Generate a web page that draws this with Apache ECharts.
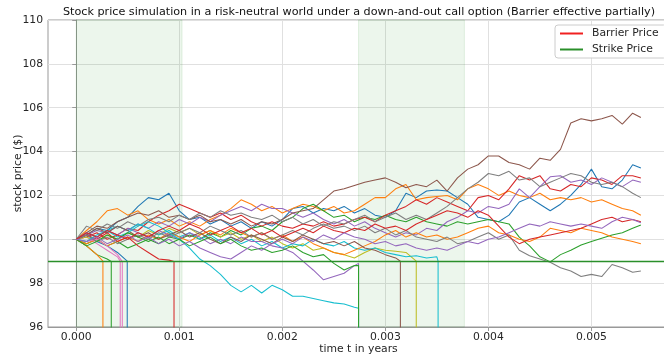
<!DOCTYPE html>
<html>
<head>
<meta charset="utf-8">
<script src="https://cdn.jsdelivr.net/npm/echarts@6/dist/echarts.min.js"></script>
<style>
html,body{margin:0;padding:0;background:#fff;}
#chart{width:664px;height:359px;}
</style>
</head>
<body>
<div id="chart"></div>
<script>
// ---- data ----
const titleText = 'Stock price simulation in a risk-neutral world under a down-and-out call option (Barrier effective partially)';
const xAxisName = 'time t in years';
const yAxisName = 'stock price ($)';
const xTickValues = [0, 0.001, 0.002, 0.003, 0.004, 0.005];
const xMin = -0.000274;
const xMax = 0.005753;
const yMin = 96;
const yMax = 110;
const yStep = 2;
const strikePrice = 99;
const barrierWindows = [[0, 0.001027], [0.00274, 0.003767]];
const knockoutLevel = 0;

const times = [0,0.0001,0.0002,0.0003,0.0004,0.0005,0.0006,0.0007,0.0008,0.0009,
  0.0010,0.0011,0.0012,0.0013,0.0014,0.0015,0.0016,0.0017,0.0018,0.0019,
  0.0020,0.0021,0.0022,0.0023,0.0024,0.0025,0.0026,0.0027,0.0028,0.0029,
  0.0030,0.0031,0.0032,0.0033,0.0034,0.0035,0.0036,0.0037,0.0038,0.0039,
  0.0040,0.0041,0.0042,0.0043,0.0044,0.0045,0.0046,0.0047,0.0048,0.0049,
  0.0050,0.0051,0.0052,0.0053,0.0054,0.00548];

// surviving paths (one value per entry of times)
const pathBrownA = [100,100.3,100.6,100.5,100.8,101.0,101.2,101.1,101.3,101.0,
  101.1,100.9,101.1,100.8,100.9,100.7,100.9,100.6,100.8,100.7,
  100.9,101.2,101.3,101.4,101.8,102.2,102.3,102.45,102.6,102.7,
  102.8,102.6,102.35,102.5,102.4,102.7,102.2,102.8,103.2,103.4,
  103.8,103.8,103.5,103.4,103.2,103.7,103.6,104.1,105.3,105.5,
  105.4,105.5,105.65,105.25,105.75,105.55];
const pathBlueA = [100,100.2,100.5,100.4,100.8,101.0,101.5,101.9,101.8,102.1,
  101.3,100.9,101.0,100.7,100.9,100.6,100.8,100.5,100.8,100.6,
  100.9,101.4,101.5,101.2,101.4,101.3,101.5,101.2,101.4,101.1,
  101.0,101.3,102.1,101.9,102.2,102.25,102.2,101.9,101.6,101.0,
  100.9,100.8,101.1,101.7,101.9,101.6,101.3,101.6,102.0,102.5,
  103.2,102.4,102.3,102.7,103.4,103.25];
const pathRedA = [100,100.1,100.3,100.0,100.2,100.5,100.4,100.8,101.1,101.3,
  101.6,101.4,101.2,101.0,101.2,100.9,101.1,100.8,100.6,100.8,
  100.6,100.5,100.7,100.6,100.8,100.6,100.7,100.9,101.0,100.8,
  101.1,101.3,101.5,101.8,101.6,101.9,101.7,101.5,101.3,101.9,
  102.0,101.8,102.3,102.9,102.7,102.9,102.3,102.2,102.5,102.4,
  102.8,102.7,102.5,102.9,102.9,102.8];
const pathPurpleA = [100,100.2,100.4,100.3,100.6,100.4,100.7,100.5,100.8,100.6,
  100.9,100.7,101.0,100.8,101.1,101.3,101.5,101.3,101.6,101.4,
  101.4,101.2,101.0,101.2,100.9,100.7,100.9,100.6,100.8,100.5,
  100.3,100.1,100.3,100.2,100.5,100.4,100.8,101.0,101.3,101.2,
  101.5,101.4,101.6,102.3,101.9,102.4,102.85,102.9,102.6,102.7,
  102.5,102.8,102.6,102.4,102.7,102.6];
const pathGreyA = [100,100.6,100.4,100.7,100.5,100.8,100.6,100.9,101.0,100.8,
  101.1,100.9,101.2,101.0,101.3,101.1,101.2,101.0,100.9,101.1,
  100.8,101.0,100.7,100.9,100.6,100.8,100.7,100.9,101.1,100.8,
  101.0,101.2,100.9,101.1,100.9,101.2,101.5,101.9,102.3,102.6,
  103.0,102.9,103.1,102.7,102.8,102.4,102.6,102.8,103.0,102.9,
  102.6,102.5,102.6,102.4,102.1,101.9];
const pathOrangeA = [100,100.4,100.8,101.3,101.4,101.1,101.3,100.9,100.7,100.9,
  100.6,100.8,100.6,100.9,101.1,101.4,101.8,101.6,101.3,101.5,
  101.2,101.4,101.6,101.5,101.3,101.5,101.2,101.3,101.6,101.9,
  101.9,102.3,102.5,101.8,101.9,101.95,102.0,101.8,102.3,102.5,
  102.3,102.0,102.2,102.0,101.9,102.1,101.8,101.9,101.8,101.9,
  101.7,101.8,101.6,101.4,101.3,101.1];
const pathOrangeB = [100,99.8,100.0,99.7,99.9,100.1,99.9,100.2,100.0,100.3,
  100.1,99.9,100.2,100.4,100.2,100.5,100.3,100.1,100.3,100.0,
  100.2,99.9,100.1,99.8,99.6,99.4,99.3,99.5,99.7,99.9,
  100.2,100.4,100.1,100.3,100.1,100.2,100.0,100.1,100.3,100.5,
  100.6,100.3,100.2,100.0,99.9,100.1,100.5,100.4,100.3,100.5,
  100.4,100.3,100.1,100.0,99.9,99.8];
const pathRedC = [100,100.3,100.1,100.4,100.2,100.0,100.3,100.1,100.4,100.6,
  100.4,100.7,100.5,100.2,100.4,100.6,100.3,100.5,100.2,100.4,
  100.1,100.3,100.5,100.3,100.6,100.4,100.3,100.5,100.4,100.7,
  100.5,100.6,100.4,100.7,100.9,101.1,101.3,101.2,101.0,101.3,
  101.1,100.6,100.1,99.8,100.0,100.1,100.2,100.3,100.4,100.5,
  100.7,100.9,101.0,100.8,100.9,100.8];
const pathPurpleC = [100,99.9,100.1,99.8,100.0,100.2,99.9,100.1,99.8,100.0,
  99.7,99.9,99.6,99.4,99.2,99.1,99.4,99.7,99.5,99.8,
  100.0,99.8,100.1,99.9,100.2,100.0,100.3,100.1,100.0,99.8,
  99.9,99.7,99.8,99.6,99.5,99.6,99.5,99.7,99.9,99.8,
  100.0,100.1,100.3,100.5,100.7,100.6,100.8,100.7,100.6,100.7,
  100.6,100.5,100.8,101.0,100.9,100.75];
const pathGreenA = [100,99.8,100.0,99.7,99.9,99.6,99.8,100.0,99.8,100.1,
  100.0,100.2,100.0,100.3,100.1,100.4,100.2,100.5,100.6,100.4,
  100.8,101.0,101.4,101.6,101.3,101.0,101.1,100.8,101.0,100.9,
  101.1,100.9,100.8,101.0,100.8,100.7,100.6,100.8,100.7,100.8,
  100.9,100.8,100.7,100.1,99.7,99.2,98.97,99.3,99.5,99.74,
  99.9,100.05,100.2,100.3,100.5,100.65];
const pathGreyB = [100,100.2,99.9,100.1,99.8,100.0,100.2,100.0,100.3,100.1,
  100.3,100.5,100.3,100.6,100.4,100.2,100.4,100.1,100.3,100.0,
  100.2,100.4,100.2,100.5,100.7,100.5,100.6,100.4,100.6,100.3,
  100.5,100.2,100.4,100.1,100.0,99.9,100.1,99.8,99.9,100.1,
  100.3,100.0,100.2,99.5,99.25,99.1,98.95,98.7,98.55,98.3,
  98.4,98.3,98.85,98.7,98.5,98.55];

// knocked-out paths: values on times, last value sits at the knock-out time
const pathOrangeC = [100,99.7,99.3,99.0];
const koOrangeC = 0.000259;
const pathGreenB = [100,99.7,99.3,99.1,98.99];
const koGreenB = 0.00034;
const pathPinkA = [100,100.1,99.8,99.5,99.2,99.0];
const koPinkA = 0.000427;
const pathPinkB = [100,99.9,100.0,99.7,99.3,98.98];
const koPinkB = 0.000447;
const pathBlueB = [100,100.2,99.9,99.7,99.4,99.0];
const koBlueB = 0.000495;
const pathRedB = [100,100.2,100.0,100.3,99.9,100.1,99.7,99.4,99.1,99.05,98.99];
const koRedB = 0.000949;
const pathPurpleB = [100,100.3,100.1,100.4,100.2,100.5,100.3,100.1,100.4,100.2,
  100.0,100.3,100.1,99.8,100.0,99.8,100.1,99.9,99.9,99.7,
  99.6,99.4,99.0,98.6,98.15,98.3,98.45,98.8,98.9];
const koPurpleB = 0.00274;
const pathCyanB = [100,99.9,100.2,100.4,100.1,100.3,100.6,100.8,100.6,100.3,
  100.0,99.6,99.1,98.8,98.4,97.9,97.6,97.9,97.55,97.9,
  97.7,97.4,97.4,97.3,97.2,97.1,97.05,96.9,96.85];
const koCyanB = 0.00274;
const pathGreenC = [100,99.7,99.9,100.2,100.0,100.3,100.1,99.9,100.1,99.8,
  100.0,99.7,99.9,100.1,99.8,100.0,99.7,99.5,99.6,99.4,
  99.5,99.7,99.4,99.2,99.3,98.9,98.6,98.8,98.8];
const koGreenC = 0.00274;
const pathBrownB = [100,100.2,100.5,100.3,100.6,100.4,100.1,100.3,100.0,100.2,
  100.4,100.1,100.3,100.0,99.8,100.1,99.9,100.2,100.0,99.8,
  100.1,99.9,100.2,100.0,99.8,99.9,99.7,99.9,99.6,99.5,
  99.3,99.15,99.0];
const koBrownB = 0.003146;
const pathOliveA = [100,100.1,99.9,100.2,100.0,100.3,100.1,100.4,100.2,100.5,
  100.3,100.5,100.2,100.4,100.1,100.3,100.0,100.2,99.9,100.1,
  99.8,99.6,99.8,99.5,99.6,99.4,99.3,99.15,99.4,99.6,
  99.5,99.45,99.4,99.0];
const koOliveA = 0.0033;
const pathCyanA = [100,100.3,100.1,100.4,100.6,100.4,100.7,100.5,100.2,100.4,
  100.1,100.3,100.0,100.2,99.9,100.1,99.8,100.0,99.7,99.9,
  99.6,99.8,99.7,100.0,99.8,99.7,99.9,99.6,99.5,99.6,
  99.4,99.3,99.2,99.25,99.15,99.2,99.0];
const koCyanA = 0.003512;

// ---- styling ----
const tab10 = ['#1f77b4','#ff7f0e','#2ca02c','#d62728','#9467bd','#8c564b','#e377c2','#7f7f7f','#bcbd22','#17becf'];
const FONT = 'DejaVu Sans';
const TXT = '#262626';

const pathList = [
  [pathBlueA, 0, null], [pathOrangeA, 1, null], [pathGreenA, 2, null], [pathRedA, 3, null],
  [pathPurpleA, 4, null], [pathBrownA, 5, null], [pathPinkA, 6, koPinkA], [pathGreyA, 7, null],
  [pathOliveA, 8, koOliveA], [pathCyanA, 9, koCyanA], [pathBlueB, 0, koBlueB], [pathOrangeB, 1, null],
  [pathGreenB, 2, koGreenB], [pathRedB, 3, koRedB], [pathPurpleB, 4, koPurpleB], [pathBrownB, 5, koBrownB],
  [pathPinkB, 6, koPinkB], [pathGreyB, 7, null], [pathCyanB, 9, koCyanB], [pathOrangeC, 1, koOrangeC],
  [pathGreenC, 2, koGreenC], [pathRedC, 3, null], [pathPurpleC, 4, null]
];

function buildData(prices, ko) {
  const out = [];
  if (ko === null) {
    prices.forEach((p, i) => out.push([times[i], p]));
  } else {
    const n = prices.length - 1;
    for (let i = 0; i < n; i++) out.push([times[i], prices[i]]);
    out.push([ko, prices[n]]);
    out.push([ko, knockoutLevel]);
  }
  return out;
}

const series = [];
series.push({
  name: 'Barrier Price', type: 'line', data: [], color: '#f02020', z: 1,
  lineStyle: {color: '#f02020', width: 1.2},
  markArea: {
    silent: true,
    itemStyle: {color: 'rgba(0,128,0,0.075)', borderColor: 'rgba(0,128,0,0.1)', borderWidth: 1, opacity: 1},
    data: barrierWindows.map(w => [{xAxis: w[0]}, {xAxis: w[1]}])
  }
});
pathList.forEach((p, k) => {
  const c = tab10[p[1]];
  series.push({
    name: 'path' + k, type: 'line', data: buildData(p[0], p[2]),
    showSymbol: false, symbol: 'none', z: 2, silent: true,
    lineStyle: {color: c, width: 1.05}, itemStyle: {color: c}
  });
});
series.push({
  name: 'Strike Price', type: 'line', data: [], color: '#2a8f2a', z: 3,
  lineStyle: {color: '#2a8f2a', width: 1.2},
  markLine: {
    symbol: 'none', silent: true, label: {show: false},
    lineStyle: {color: '#2a8f2a', width: 1.4, type: 'solid'},
    data: [{yAxis: strikePrice}]
  }
});

const chart = echarts.init(document.getElementById('chart'), null, {renderer: 'canvas'});
chart.setOption({
  animation: false,
  backgroundColor: '#ffffff',
  graphic: [{
    type: 'text', x: 359, y: 12, z: 10,
    style: {text: titleText, font: '11.2px "DejaVu Sans"', fill: '#111', textAlign: 'center', textVerticalAlign: 'middle'}
  }],
  legend: {
    data: ['Barrier Price', 'Strike Price'],
    orient: 'vertical', left: 555, top: 25,
    icon: 'rect', itemWidth: 23, itemHeight: 2, itemGap: 5,
    padding: [3, 8, 3, 5],
    backgroundColor: 'rgba(255,255,255,0.9)', borderColor: '#cccccc', borderWidth: 1, borderRadius: 3,
    textStyle: {fontFamily: FONT, fontSize: 10.8, color: TXT, padding: [0, 0, 0, 4]},
    selectedMode: false
  },
  grid: {left: 48, right: -5, top: 20, bottom: 32, show: true, borderColor: '#999', borderWidth: 1,
    containLabel: false, outerBoundsMode: 'none'},
  xAxis: {
    type: 'value', min: xMin, max: xMax,
    name: xAxisName, nameLocation: 'middle', nameGap: 17, nameMoveOverlap: false,
    nameTextStyle: {fontFamily: FONT, fontSize: 10.8, color: TXT},
    axisLine: {show: true, lineStyle: {color: '#999'}},
    axisTick: {show: true, length: 4, customValues: xTickValues, lineStyle: {color: '#999'}},
    axisLabel: {customValues: xTickValues, formatter: v => v.toFixed(3), fontFamily: FONT, fontSize: 10.8, color: TXT, margin: 5},
    splitLine: {show: true, lineStyle: {color: '#e0e0e0', width: 1}}
  },
  yAxis: {
    type: 'value', min: yMin, max: yMax, interval: yStep,
    name: yAxisName, nameLocation: 'middle', nameGap: 24, nameRotate: 90, nameMoveOverlap: false,
    nameTextStyle: {fontFamily: FONT, fontSize: 10.8, color: TXT},
    axisLine: {show: true, lineStyle: {color: '#999'}},
    axisTick: {show: true, length: 4, lineStyle: {color: '#999'}},
    axisLabel: {fontFamily: FONT, fontSize: 10.8, color: TXT, margin: 5},
    splitLine: {show: true, lineStyle: {color: '#e0e0e0', width: 1}}
  },
  series: series
});
</script>
</body>
</html>
